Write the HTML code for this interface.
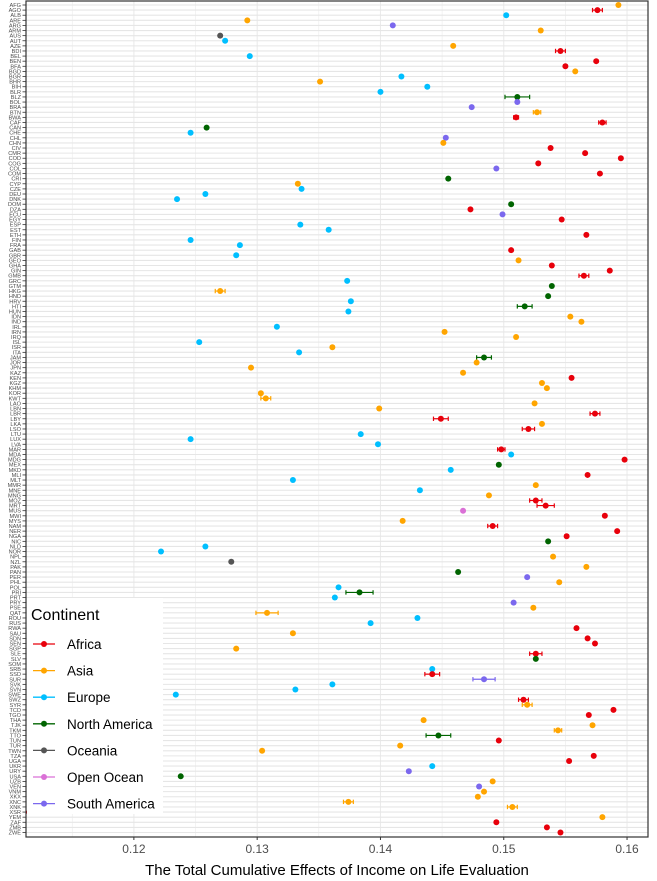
<!DOCTYPE html>
<html><head><meta charset="utf-8"><style>
body{margin:0;background:#fff;}
svg{display:block;font-family:"Liberation Sans",sans-serif;}
</style></head><body>
<svg id="chart" width="657" height="881"></svg>
<script>
const codes=["AFG","AGO","ALB","ARE","ARG","ARM","AUS","AUT","AZE","BDI","BEL","BEN","BFA","BGD","BGR","BHR","BIH","BLR","BLZ","BOL","BRA","BTN","BWA","CAF","CAN","CHE","CHL","CHN","CIV","CMR","COD","COG","COL","COM","CRI","CYP","CZE","DEU","DNK","DOM","DZA","ECU","EGY","ESP","EST","ETH","FIN","FRA","GAB","GBR","GEO","GHA","GIN","GMB","GRC","GTM","HKG","HND","HRV","HTI","HUN","IDN","IND","IRL","IRN","IRQ","ISL","ISR","ITA","JAM","JOR","JPN","KAZ","KEN","KGZ","KHM","KOR","KWT","LAO","LBN","LBR","LBY","LKA","LSO","LTU","LUX","LVA","MAR","MDA","MDG","MEX","MKD","MLI","MLT","MMR","MNE","MNG","MOZ","MRT","MUS","MWI","MYS","NAM","NER","NGA","NIC","NLD","NOR","NPL","NZL","PAK","PAN","PER","PHL","POL","PRI","PRT","PRY","PSE","QAT","ROU","RUS","RWA","SAU","SDN","SEN","SGP","SLE","SLV","SOM","SRB","SSD","SUR","SVK","SVN","SWE","SWZ","SYR","TCD","TGO","THA","TJK","TKM","TTO","TUN","TUR","TWN","TZA","UGA","UKR","URY","USA","UZB","VEN","VNM","XKX","XNC","XNK","XSR","YEM","ZAF","ZMB","ZWE"];
const continents="AFEASAOEAFEFFAEAEENSSAFFNESAFFFFSFNAEEENFSFEEFEEFEAFFFENANENEAAEAAEAENAAAFAAAAAAFFAFEEEFEFNEFEAEAFFPFAFFFNEEAOANSAENESAAEEFAFFAFNFEFSEEEFAFFAAANFAAFFESNASAAAAFAFFF";
const values=[0.1593,0.1576,0.1502,0.1292,0.1410,0.1530,0.1270,0.1274,0.1459,0.1546,0.1294,0.1575,0.1550,0.1558,0.1417,0.1351,0.1438,0.1400,0.1511,0.1511,0.1474,0.1527,0.1510,0.1580,0.1259,0.1246,0.1453,0.1451,0.1538,0.1566,0.1595,0.1528,0.1494,0.1578,0.1455,0.1333,0.1336,0.1258,0.1235,0.1506,0.1473,0.1499,0.1547,0.1335,0.1358,0.1567,0.1246,0.1286,0.1506,0.1283,0.1512,0.1539,0.1586,0.1565,0.1373,0.1539,0.1270,0.1536,0.1376,0.1517,0.1374,0.1554,0.1563,0.1316,0.1452,0.1510,0.1253,0.1361,0.1334,0.1484,0.1478,0.1295,0.1467,0.1555,0.1531,0.1535,0.1303,0.1307,0.1525,0.1399,0.1574,0.1449,0.1531,0.1520,0.1384,0.1246,0.1398,0.1498,0.1506,0.1598,0.1496,0.1457,0.1568,0.1329,0.1526,0.1432,0.1488,0.1526,0.1534,0.1467,0.1582,0.1418,0.1491,0.1592,0.1551,0.1536,0.1258,0.1222,0.1540,0.1279,0.1567,0.1463,0.1519,0.1545,0.1366,0.1383,0.1363,0.1508,0.1524,0.1308,0.1430,0.1392,0.1559,0.1329,0.1568,0.1574,0.1283,0.1526,0.1526,null,0.1442,0.1442,0.1484,0.1361,0.1331,0.1234,0.1516,0.1519,0.1589,0.1569,0.1435,0.1572,0.1544,0.1447,0.1496,0.1416,0.1304,0.1573,0.1553,0.1442,0.1423,0.1238,0.1491,0.1480,0.1484,0.1479,0.1374,0.1507,0.1111,0.1580,0.1494,0.1535,0.1546];
const errors=[0,0.0004,0,0,0,0,0,0,0,0.0004,0,0,0,0,0,0,0,0,0.0010,0,0,0.0003,0.0002,0.0003,0,0,0,0,0,0,0,0,0,0,0,0,0,0,0,0,0,0,0,0,0,0,0,0,0,0,0,0,0,0.0004,0,0,0.0004,0,0,0.0006,0,0,0,0,0,0,0,0,0,0.0006,0,0,0,0,0,0,0,0.0004,0,0,0.0004,0.0006,0,0.0005,0,0,0,0.0003,0,0,0,0,0,0,0,0,0,0.0005,0.0007,0,0,0,0.0004,0,0,0,0,0,0,0,0,0,0,0,0,0.0011,0,0,0,0.0009,0,0,0,0,0,0,0,0.0005,0,0,0,0.0006,0.0009,0,0,0,0.0004,0.0004,0,0,0,0,0.0003,0.0010,0,0,0,0,0,0,0,0,0,0,0,0,0.0004,0.0004,0,0,0,0,0];
const xTicks=[0.12,0.13,0.14,0.15,0.16];
const legendNames=["Africa","Asia","Europe","North America","Oceania","Open Ocean","South America"];
const legendKeys=["F","A","E","N","O","P","S"];
const colorMap={F:"#e8000b",A:"#ffa500",E:"#00bfff",N:"#006400",O:"#555555",P:"#da70d6",S:"#7b68ee"};

const NS="http://www.w3.org/2000/svg";
const svg=document.getElementById("chart");
const L=26,R=648,T=1,B=837,X0=0.11125,X1=0.1617;
function xs(v){return L+(v-X0)/(X1-X0)*(R-L);}
function ys(i){return 5+i*(832.5-5)/(codes.length-1);}
function mk(tag,attrs,parent){const e=document.createElementNS(NS,tag);for(const k in attrs)e.setAttribute(k,attrs[k]);(parent||svg).appendChild(e);return e;}

const defs=mk("defs",{});
const cp=mk("clipPath",{id:"clip"},defs);
mk("rect",{x:L,y:T,width:R-L,height:B-T},cp);

const bg=mk("rect",{x:L,y:T,width:R-L,height:B-T,fill:"#fff"});



const grid=mk("g",{});


for(let v=0.115;v<0.1616;v+=0.005){
  const major=Math.abs(v*100-Math.round(v*100))<1e-6;
  mk("line",{x1:xs(v),x2:xs(v),y1:T,y2:B,stroke:"#ebebeb","stroke-width":major?1.1:0.6},grid);
}
codes.forEach((c,i)=>{mk("line",{x1:L,x2:R,y1:ys(i),y2:ys(i),stroke:"#e6e6e6","stroke-width":1.1},grid);});

const marks=mk("g",{"clip-path":"url(#clip)"});


codes.forEach((c,i)=>{
  const v=values[i]; if(v===null)return;
  const col=colorMap[continents[i]]; const y=ys(i);
  const g=mk("g",{},marks);
  
  
  const e=errors[i];
  if(e>0){
    mk("line",{x1:xs(v-e),x2:xs(v+e),y1:y,y2:y,stroke:col,"stroke-width":1.2},g);
    mk("line",{x1:xs(v-e),x2:xs(v-e),y1:y-2.2,y2:y+2.2,stroke:col,"stroke-width":1.2},g);
    mk("line",{x1:xs(v+e),x2:xs(v+e),y1:y-2.2,y2:y+2.2,stroke:col,"stroke-width":1.2},g);
  }
  mk("circle",{cx:xs(v),cy:y,r:3,fill:col},g);
});

const yl=mk("g",{});


codes.forEach((c,i)=>{
  const t=mk("text",{x:21,y:ys(i)+2,"text-anchor":"end","font-size":"5.6",fill:"#4d4d4d"},yl);
  t.textContent=c;
  mk("line",{x1:22.5,x2:L,y1:ys(i),y2:ys(i),stroke:"#333","stroke-width":0.8},yl);
});

// legend
const lg=mk("g",{});


mk("rect",{x:27,y:598,width:136,height:216,fill:"#fff"},lg);
const lt=mk("text",{x:31,y:620,"font-size":"16",fill:"#000"},lg);
lt.textContent="Continent";


legendNames.forEach((n,k)=>{
  const y=644+k*26.6; const col=colorMap[legendKeys[k]];
  const e=mk("g",{},lg);
  
  
  mk("line",{x1:33,x2:55,y1:y,y2:y,stroke:col,"stroke-width":1.3},e);
  mk("circle",{cx:44,cy:y,r:3,fill:col},e);
  const t=mk("text",{x:67,y:y+5,"font-size":"13.5",fill:"#000"},e);
  t.textContent=n;
});

const border=mk("rect",{x:L,y:T,width:R-L,height:B-T,fill:"none",stroke:"#333","stroke-width":1.2});



const xa=mk("g",{});


xTicks.forEach(v=>{
  mk("line",{x1:xs(v),x2:xs(v),y1:B,y2:B+3,stroke:"#333","stroke-width":1},xa);
  const t=mk("text",{x:xs(v),y:B+16,"text-anchor":"middle","font-size":"12",fill:"#4d4d4d"},xa);
  t.textContent=v.toFixed(2);
});
const xt=mk("text",{x:(L+R)/2,y:875,"text-anchor":"middle","font-size":"15",fill:"#000"});
xt.textContent="The Total Cumulative Effects of Income on Life Evaluation";


</script>
</body></html>
